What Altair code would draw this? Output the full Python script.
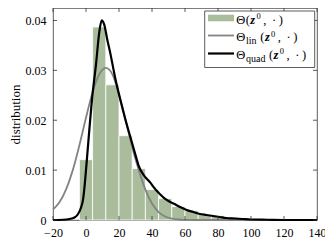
import altair as alt
import pandas as pd

# ---- data ----
bin_lo = [-4, 4, 12, 20, 28, 36, 44, 52, 60, 68, 76, 84]
bin_hi = [4, 12, 20, 28, 36, 44, 52, 60, 68, 76, 84, 92]
bin_density = [0.0121, 0.0387, 0.0271, 0.0169, 0.0103, 0.0061, 0.0043,
               0.0027, 0.0019, 0.0011, 0.0009, 0.0006]

lin_x = [-20, -16, -12, -8, -4, 0, 4, 8, 12, 16, 20, 24, 28, 32, 36, 40,
         44, 48, 52, 56, 60, 70, 80, 100, 120, 140]
lin_y = [0.0021, 0.0036, 0.0062, 0.0100, 0.0150, 0.0205, 0.0256, 0.0292,
         0.0305, 0.0292, 0.0252, 0.0200, 0.0146, 0.0100, 0.0061, 0.0033,
         0.0016, 0.0007, 0.0003, 0.0001, 0.00004, 0, 0, 0, 0, 0]

quad_x = [-20, -14, -10, -7, -5, -3, -1.8, -0.8, 0.2, 2, 3.6, 6, 8, 9.5, 11,
          13, 15, 16.3, 18, 20.8, 24, 27, 30, 32, 35, 37, 39, 41, 43, 45, 47,
          50, 53, 57, 61, 65, 69, 73, 77, 81, 85, 90, 95, 100, 110, 120, 140]
quad_y = [0, 0.00005, 0.0002, 0.0005, 0.0011, 0.0025, 0.0041, 0.007, 0.0108,
          0.018, 0.0241, 0.0310, 0.0375, 0.0400, 0.0392, 0.0360, 0.0330,
          0.0308, 0.0280, 0.0241, 0.0200, 0.0165, 0.0130, 0.0108, 0.0090,
          0.0082, 0.0075, 0.0066, 0.0058, 0.0051, 0.0045, 0.0038, 0.0033,
          0.0026, 0.0020, 0.0016, 0.0012, 0.0010, 0.0008, 0.0006, 0.0004,
          0.0003, 0.0002, 0.0001, 0.00005, 0, 0]

x_ticks = [-20, 0, 20, 40, 60, 80, 100, 120, 140]
y_ticks = [0, 0.01, 0.02, 0.03, 0.04]
y_title = "distribution"

# ---- styling ----
W, H = 264, 212
FONT = "Liberation Serif"
GREEN = "#a9bc9c"
GRAY = "#838383"
TICKC = "#333333"

xscale = alt.Scale(domain=[-20, 140], nice=False, zero=False)
yscale = alt.Scale(domain=[0, 0.0425], nice=False)
xaxis = alt.Axis(values=x_ticks, ticks=False, domain=False, grid=False, title=None,
                 labelFont=FONT, labelFontSize=12, labelColor="black",
                 labelPadding=7, labelFlush=False)
yaxis = alt.Axis(values=y_ticks, ticks=False, domain=False, grid=False, title=y_title,
                 labelFont=FONT, labelFontSize=12, labelColor="black",
                 labelPadding=7, labelFlush=False,
                 labelExpr="datum.value == 0 ? '0' : format(datum.value, '.2f')",
                 titleFont=FONT, titleFontSize=13, titleFontWeight="normal",
                 titleColor="black", titlePadding=3)

def X(f):
    return alt.X(f, scale=xscale, axis=xaxis)

def Y(f):
    return alt.Y(f, scale=yscale, axis=yaxis)

bars_df = pd.DataFrame({"lo": bin_lo, "hi": bin_hi, "d": bin_density})
lin_df = pd.DataFrame({"x": lin_x, "y": lin_y})
quad_df = pd.DataFrame({"x": quad_x, "y": quad_y})
dummy = pd.DataFrame({"d": [0]})

bars = alt.Chart(bars_df).mark_rect(fill=GREEN, stroke="white", strokeWidth=0.8).encode(
    x=X("lo:Q"), x2="hi:Q", y=Y("d:Q"), y2=alt.datum(0))

lin_line = alt.Chart(lin_df).mark_line(color=GRAY, strokeWidth=1.8, interpolate="monotone").encode(
    x=X("x:Q"), y=Y("y:Q"))
quad_line = alt.Chart(quad_df).mark_line(color="black", strokeWidth=2.2, interpolate="monotone").encode(
    x=X("x:Q"), y=Y("y:Q"))

# inward ticks on all four sides
xt_df = pd.DataFrame({"t": x_ticks})
yt_df = pd.DataFrame({"u": y_ticks})
tick_style = dict(color=TICKC, strokeWidth=0.8)
xt_bot = alt.Chart(xt_df).mark_rule(**tick_style).encode(
    x=X("t:Q"), y=alt.value(H), y2=alt.value(H - 4))
xt_top = alt.Chart(xt_df).mark_rule(**tick_style).encode(
    x=X("t:Q"), y=alt.value(0), y2=alt.value(4))
yt_left = alt.Chart(yt_df).mark_rule(**tick_style).encode(
    y=Y("u:Q"), x=alt.value(0), x2=alt.value(4))
yt_right = alt.Chart(yt_df).mark_rule(**tick_style).encode(
    y=Y("u:Q"), x=alt.value(W), x2=alt.value(W - 4))

# ---- legend (drawn by hand to allow sub/superscripts) ----
def txt(s, x, y, size=12.5, **kw):
    return alt.Chart(dummy).mark_text(text=s, font=FONT, fontSize=size, align="left",
                                      baseline="alphabetic", color="black", **kw).encode(
        x=alt.value(x), y=alt.value(y))

leg = [
    alt.Chart(dummy).mark_rect(fill="white", stroke=TICKC, strokeWidth=0.8).encode(
        x=alt.value(151.7), x2=alt.value(261.7), y=alt.value(3), y2=alt.value(59.5)),
    alt.Chart(dummy).mark_rect(fill=GREEN).encode(
        x=alt.value(155), x2=alt.value(181), y=alt.value(6.7), y2=alt.value(13.3)),
    alt.Chart(dummy).mark_rule(color=GRAY, strokeWidth=1.8).encode(
        x=alt.value(155), x2=alt.value(181), y=alt.value(27.5)),
    alt.Chart(dummy).mark_rule(color="black", strokeWidth=2.2).encode(
        x=alt.value(155), x2=alt.value(181), y=alt.value(45.5)),
]

rows = [(15.5, None, 192.7), (33.0, "lin", 207.3), (50.7, "quad", 216.0)]
for base, sub, px in rows:
    leg.append(txt("Θ", 183.3, base))
    if sub:
        leg.append(txt(sub, 193.0, base + 2.8, size=10))
    leg.append(txt("(", px, base))
    leg.append(txt("z", px + 4.6, base, fontStyle="italic", fontWeight="bold"))
    leg.append(txt("0", px + 10.8, base - 4.5, size=8.5))
    leg.append(txt(",", px + 17.5, base))
    leg.append(txt("·", px + 26.3, base))
    leg.append(txt(")", px + 33.0, base))

chart = alt.layer(bars, lin_line, quad_line, xt_bot, xt_top, yt_left, yt_right, *leg).properties(
    width=W, height=H,
    padding={"left": 45, "top": 0, "right": 8, "bottom": 20},
    autosize=alt.AutoSizeParams(type="none"),
).configure_view(stroke=TICKC, strokeWidth=0.8)

chart.save("out.html", embed_options={"renderer": "svg", "actions": False})
